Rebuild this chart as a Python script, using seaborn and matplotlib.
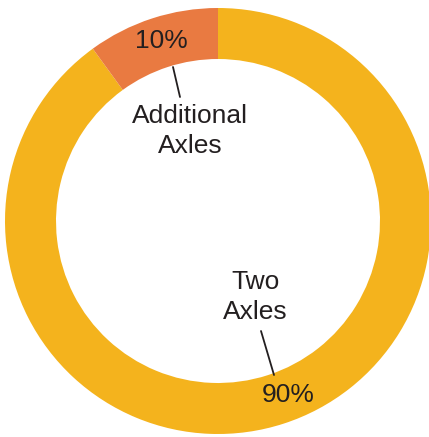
import matplotlib
matplotlib.use("Agg")
import matplotlib.pyplot as plt
import seaborn as sns

# Share of vehicles by axle configuration
categories = ["Two\nAxles", "Additional\nAxles"]
shares = [90, 10]
pct_labels = ["90%", "10%"]
colors = ["#F4B31D", "#E97A41"]

sns.set_theme(style="white")
plt.rcParams["font.family"] = ["Liberation Sans", "DejaVu Sans"]

W, H = 429, 437
fig = plt.figure(figsize=(W / 100, H / 100), dpi=100)
ax = fig.add_axes([0, 0, 1, 1])

cx, cy, r_out, r_in = 218, 221, 213, 162
wedges, _ = ax.pie(
    shares,
    colors=colors,
    startangle=-90,
    counterclock=True,
    center=(cx, cy),
    radius=r_out,
    wedgeprops=dict(width=r_out - r_in, linewidth=0),
)
ax.set_xlim(0, W)
ax.set_ylim(H, 0)
ax.set_aspect("equal", adjustable="datalim")
ax.axis("off")

txt = dict(fontsize=19, color="#231F20", ha="center", va="center",
           linespacing=1.32)

# Two Axles (90%)
ax.text(288, 395, pct_labels[0], **txt)
ax.text(255, 297, categories[0], **txt)
ax.plot([261, 274], [331, 375], color="#231F20", lw=1.3)

# Additional Axles (10%)
ax.text(161, 41, pct_labels[1], **txt)
ax.text(190, 131, categories[1], **txt)
ax.plot([173, 180], [67, 97], color="#231F20", lw=1.3)

fig.savefig("out.png", dpi=100, facecolor="white")
